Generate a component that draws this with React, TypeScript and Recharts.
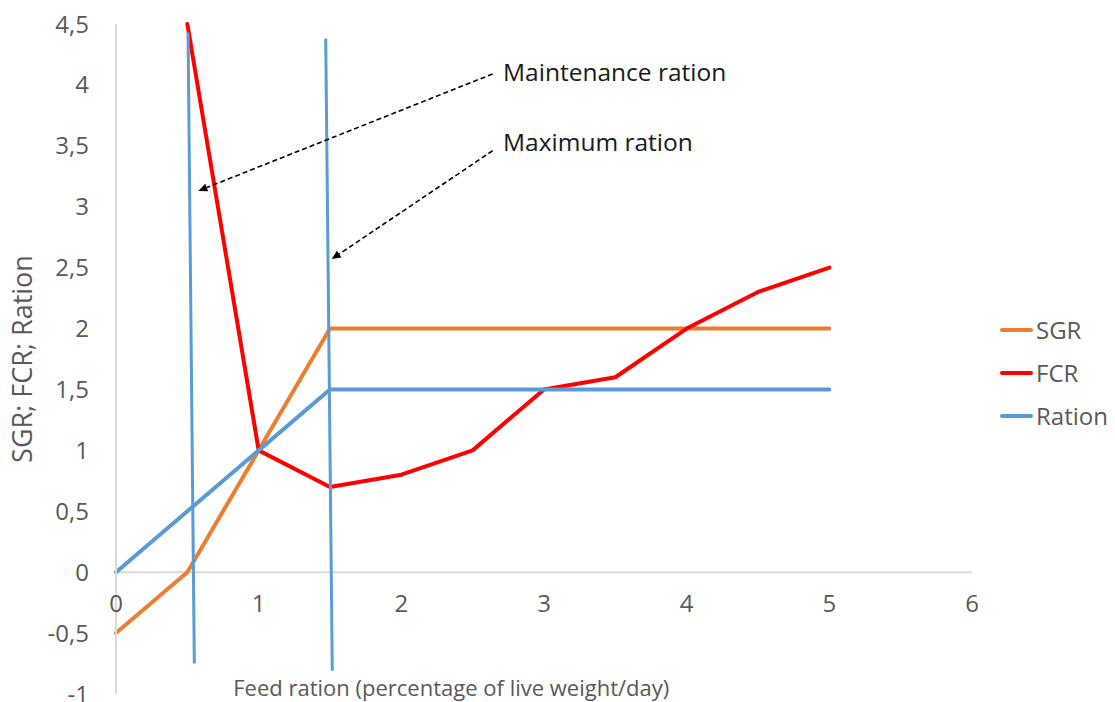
import React from "react";
import {
  LineChart,
  Line,
  XAxis,
  YAxis,
  ReferenceLine,
  ReferenceDot,
} from "recharts";

// feed ration (% of live weight/day)
const feed = [0, 0.5, 1, 1.5, 2, 2.5, 3, 3.5, 4, 4.5, 5];
const sgr = [-0.5, 0, 1, 2, 2, 2, 2, 2, 2, 2, 2];
const fcr = [null, 4.5, 1, 0.7, 0.8, 1, 1.5, 1.6, 2, 2.3, 2.5];
const ration = [0, 0.5, 1, 1.5, 1.5, 1.5, 1.5, 1.5, 1.5, 1.5, 1.5];

const xTicks = [0, 1, 2, 3, 4, 5, 6];
const yTicks = [-1, -0.5, 0, 0.5, 1, 1.5, 2, 2.5, 3, 3.5, 4, 4.5];

// hand-drawn marker lines (maintenance / maximum ration), data coords
const markerLines = [
  [{ x: 0.505, y: 4.43 }, { x: 0.549, y: -0.75 }],
  [{ x: 1.47, y: 4.38 }, { x: 1.516, y: -0.81 }],
];

// annotation arrows: start (by the text) -> tip
const arrows = [
  [{ x: 2.64, y: 4.09 }, { x: 0.577, y: 3.13 }],
  [{ x: 2.64, y: 3.46 }, { x: 1.512, y: 2.57 }],
];
const notes = [
  { text: "Maintenance ration", x: 2.713, y: 4.1 },
  { text: "Maximum ration", x: 2.713, y: 3.53 },
];

const xTitle = { text: "Feed ration (percentage of live weight/day)", x: 2.35, y: -0.955 };

const series = [
  { key: "SGR", name: "SGR", color: "#ED7D31" },
  { key: "FCR", name: "FCR", color: "#FF0000" },
  { key: "Ration", name: "Ration", color: "#5B9BD5" },
];

const data = feed.map((f, i) => ({
  feed: f,
  SGR: sgr[i],
  FCR: fcr[i],
  Ration: ration[i],
}));

const FONT = "'Open Sans', sans-serif";
const GRAY = "#595959";

function Arrow(props: any) {
  const { x1, y1, x2, y2 } = props;
  const a = Math.atan2(y2 - y1, x2 - x1);
  const len = 9;
  const w = 4;
  const bx = x2 - len * Math.cos(a);
  const by = y2 - len * Math.sin(a);
  const px = -Math.sin(a) * w;
  const py = Math.cos(a) * w;
  return (
    <g>
      <line
        x1={x1}
        y1={y1}
        x2={bx}
        y2={by}
        stroke="#000"
        strokeWidth={1.6}
        strokeDasharray="5 3"
      />
      <polygon
        points={`${x2},${y2} ${bx + px},${by + py} ${bx - px},${by - py}`}
        fill="#000"
      />
    </g>
  );
}

function LegendBox() {
  return (
    <div
      style={{
        position: "absolute",
        left: 1000,
        top: 308,
        fontFamily: FONT,
      }}
    >
      {series.map((s) => (
        <div
          key={s.key}
          style={{ display: "flex", alignItems: "center", height: 43 }}
        >
          <div
            style={{
              width: 33,
              height: 4,
              borderRadius: 2,
              background: s.color,
              marginRight: 3,
            }}
          />
          <span style={{ fontSize: 24, color: GRAY }}>{s.name}</span>
        </div>
      ))}
    </div>
  );
}

export default function App() {
  return (
    <div
      style={{
        position: "absolute",
        left: 0,
        top: 0,
        width: 1115,
        height: 702,
        background: "#fff",
      }}
    >
      <LineChart
        width={1115}
        height={702}
        data={data}
        margin={{ top: 24, right: 143, bottom: 8, left: 0 }}
        style={{ fontFamily: FONT }}
      >
        <XAxis dataKey="feed" type="number" domain={[0, 6]} ticks={xTicks} hide />
        <YAxis
          type="number"
          domain={[-1, 4.5]}
          ticks={yTicks}
          width={116}
          interval={0}
          axisLine={{ stroke: "#d9d9d9", strokeWidth: 2 }}
          tickLine={false}
          tickSize={0}
          tickMargin={27}
          tick={{ fill: GRAY, fontSize: 24 }}
          tickFormatter={(v: number) => String(v).replace(".", ",")}
          label={{
            value: "SGR; FCR; Ration",
            angle: -90,
            position: "insideLeft",
            offset: 22,
            style: { textAnchor: "middle", fill: GRAY, fontSize: 27 },
          }}
        />
        <ReferenceLine
          segment={[
            { x: xTicks[0], y: 0 },
            { x: xTicks[xTicks.length - 1], y: 0 },
          ]}
          stroke="#d9d9d9"
          strokeWidth={2}
        />
        {xTicks.map((t) => (
          <ReferenceDot
            key={"xt" + t}
            x={t}
            y={0}
            r={0}
            fill="none"
            stroke="none"
            label={{ value: String(t), position: "bottom", offset: 23, fill: GRAY, fontSize: 24 }}
          />
        ))}
        {series.map((s) => (
          <Line
            key={s.key}
            type="linear"
            dataKey={s.key}
            name={s.name}
            stroke={s.color}
            strokeWidth={4}
            strokeLinejoin="round"
            strokeLinecap="round"
            dot={false}
            activeDot={false}
            isAnimationActive={false}
          />
        ))}
        {markerLines.map((seg, i) => (
          <ReferenceLine key={"m" + i} segment={seg} stroke="#5B9BD5" strokeWidth={3} />
        ))}
        {arrows.map((seg, i) => (
          <ReferenceLine key={"a" + i} segment={seg} shape={Arrow} />
        ))}
        {notes.map((n) => (
          <ReferenceDot
            key={n.text}
            x={n.x}
            y={n.y}
            r={0}
            fill="none"
            stroke="none"
            label={{ value: n.text, position: "right", offset: 0, fill: "#1a1a1a", fontSize: 24.5 }}
          />
        ))}
        <ReferenceDot
          x={xTitle.x}
          y={xTitle.y}
          r={0}
          fill="none"
          stroke="none"
          label={{ value: xTitle.text, position: "center", fill: GRAY, fontSize: 22 }}
        />
      </LineChart>
      <LegendBox />
    </div>
  );
}
